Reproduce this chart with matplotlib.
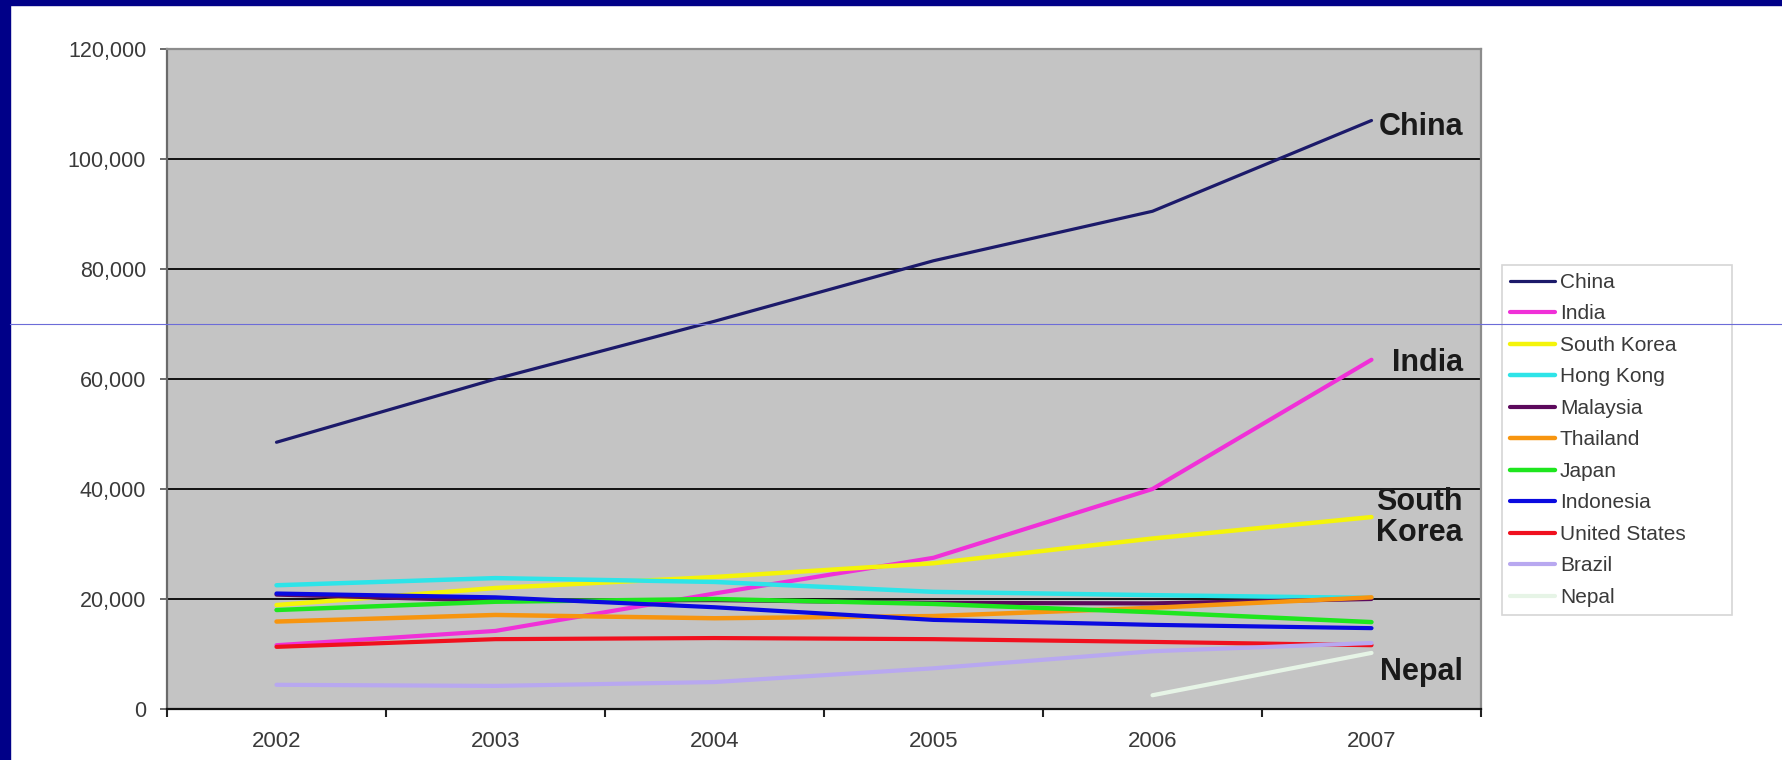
import numpy as np
import matplotlib
matplotlib.use("Agg")
import matplotlib.pyplot as plt
from matplotlib.lines import Line2D
from matplotlib.ticker import FixedLocator, FuncFormatter

plt.rcParams['font.family'] = ['Liberation Sans', 'DejaVu Sans']

years = ['2002', '2003', '2004', '2005', '2006', '2007']
y_ticks = [0, 20000, 40000, 60000, 80000, 100000, 120000]

china = [48500, 60000, 70500, 81500, 90500, 107000]
india = [11600, 14200, 21000, 27500, 40000, 63500]
south_korea = [18900, 22000, 24000, 26500, 31000, 34900]
hong_kong = [22500, 23800, 23100, 21300, 20700, 20200]
malaysia = [20800, 19700, 19800, 19300, 19200, 20000]
thailand = [15900, 17100, 16500, 16900, 18400, 20300]
japan = [18000, 19500, 20000, 19100, 17600, 15800]
indonesia = [21000, 20300, 18500, 16200, 15300, 14700]
united_states = [11300, 12700, 12900, 12700, 12200, 11600]
brazil = [4400, 4200, 4900, 7400, 10500, 12000]
nepal = [np.nan, np.nan, np.nan, np.nan, 2500, 10200]

series = [
    ('China', china, '#1c1a6a', 2.3),
    ('India', india, '#f030d8', 3.0),
    ('South Korea', south_korea, '#f4f40a', 3.2),
    ('Hong Kong', hong_kong, '#2ee4e8', 3.2),
    ('Malaysia', malaysia, '#5c0a5c', 3.0),
    ('Thailand', thailand, '#f7950f', 3.2),
    ('Japan', japan, '#1ee61e', 3.2),
    ('Indonesia', indonesia, '#0a0ae0', 3.0),
    ('United States', united_states, '#f0101e', 3.0),
    ('Brazil', brazil, '#b8a8f0', 3.0),
    ('Nepal', nepal, '#e6f4e6', 3.0),
]

W, H = 1782, 760
fig = plt.figure(figsize=(W / 100, H / 100), dpi=100)
fig.patch.set_facecolor('white')

# slide frame: navy strips on the left and top, thin rule across
fig.add_artist(plt.Rectangle((0, 0), 10 / W, 1, transform=fig.transFigure,
                             color='#000088', zorder=0))
fig.add_artist(plt.Rectangle((0, 1 - 5 / H), 1, 5 / H, transform=fig.transFigure,
                             color='#000088', zorder=0))

left, right, top, bottom = 167, 1481, 49, 709
ax = fig.add_axes([left / W, 1 - bottom / H, (right - left) / W, (bottom - top) / H])
ax.set_facecolor('#c4c4c4')

x = np.arange(len(years))
for name, vals, color, lw in series:
    ax.plot(x, vals, color=color, lw=lw, label=name, solid_capstyle='round',
            solid_joinstyle='round', zorder=3)

ax.set_xlim(-0.5, len(years) - 0.5)
ax.set_ylim(0, 120000)

# y axis
ax.yaxis.set_major_locator(FixedLocator(y_ticks))
ax.yaxis.set_major_formatter(FuncFormatter(lambda v, p: f'{int(v):,}'))
ax.tick_params(axis='y', direction='out', length=5, width=1.2, color='#505050',
               pad=10, labelsize=15.5, labelcolor='#3a3a3a')
for v in y_ticks[1:-1]:
    ax.axhline(v, color='#111111', lw=1.4, zorder=2)

# x axis: ticks between categories, labels at centres
ax.xaxis.set_major_locator(FixedLocator(np.arange(-0.5, len(years), 1.0)))
ax.xaxis.set_major_formatter(FuncFormatter(lambda v, p: ''))
ax.xaxis.set_minor_locator(FixedLocator(x))
ax.set_xticklabels(years, minor=True)
ax.tick_params(axis='x', which='major', direction='out', length=6, width=1.5,
               color='#222222')
ax.tick_params(axis='x', which='minor', length=0, pad=16, labelsize=16,
               labelcolor='#3a3a3a')

ax.spines['left'].set_color('#6a6a6a')
ax.spines['left'].set_linewidth(1.6)
ax.spines['bottom'].set_color('#111111')
ax.spines['bottom'].set_linewidth(1.6)
ax.spines['top'].set_color('#8c8c8c')
ax.spines['top'].set_linewidth(1.6)
ax.spines['right'].set_color('#8c8c8c')
ax.spines['right'].set_linewidth(1.6)

# end-of-line country labels
lab_x = 5.418
lab_kw = dict(ha='right', va='center', fontsize=22, fontweight='bold',
              color='#1a1a1a', zorder=4)
ax.text(lab_x, 105800, 'China', **lab_kw)
ax.text(lab_x, 62900, 'India', **lab_kw)
ax.text(lab_x, 37600, 'South', **lab_kw)
ax.text(lab_x, 32000, 'Korea', **lab_kw)
ax.text(lab_x, 6700, 'Nepal', **lab_kw)

leg = ax.legend(loc='upper left', mode='expand',
                bbox_to_anchor=(1502 / W, 1 - 613 / H, 230 / W, 348 / H),
                bbox_transform=fig.transFigure, borderaxespad=0,
                fontsize=15, handlelength=2.15, handletextpad=0.25,
                labelspacing=0.6, borderpad=0.38, frameon=True,
                fancybox=False, framealpha=1)
leg.get_frame().set_edgecolor('#d6d6d6')
leg.get_frame().set_linewidth(1.2)
for t in leg.get_texts():
    t.set_color('#3a3a3a')

fig.add_artist(Line2D([10 / W, 1], [1 - 324 / H, 1 - 324 / H],
                      transform=fig.transFigure, color='#6c6cd8', lw=0.8,
                      zorder=10))

fig.savefig('out.png', dpi=100)
